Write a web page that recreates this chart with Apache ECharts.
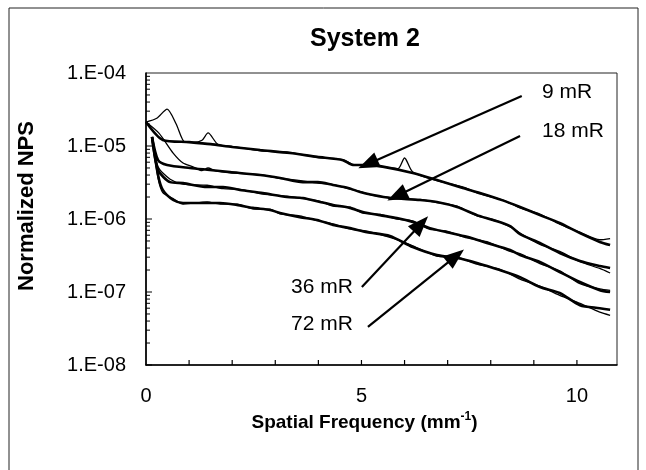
<!DOCTYPE html>
<html>
<head>
<meta charset="utf-8">
<script src="https://cdn.jsdelivr.net/npm/echarts@6/dist/echarts.min.js"></script>
<style>html,body{margin:0;padding:0;background:#fff}#c{width:646px;height:470px}</style>
</head>
<body>
<div id="c"></div>
<script>
// ---- data (spatial frequency in mm^-1, normalized NPS) ----
var freq9A = [0, 0.39, 1.0, 1.5, 2.0, 2.65, 3.34, 3.97, 4.57, 4.8, 5.13, 5.43, 6.19, 6.75, 7.35, 7.75, 8.28, 8.68, 9.14, 9.6, 10.07, 10.53, 10.77];
var nps9A  = [2.13e-5, 1.21e-5, 1.13e-5, 1.06e-5, 9.7e-6, 8.8e-6, 8.0e-6, 7.1e-6, 6.4e-6, 5.5e-6, 5.5e-6, 5.3e-6, 4.27e-6, 3.42e-6, 2.66e-6, 2.27e-6, 1.8e-6, 1.46e-6, 1.13e-6, 8.8e-7, 6.4e-7, 4.85e-7, 4.4e-7];
var freq9B = [0, 0.25, 0.49, 0.7, 0.9, 1.1, 1.3, 1.44, 1.67, 2.0, 2.65, 3.34, 3.97, 4.57, 4.8, 5.13, 5.6, 5.85, 6.0, 6.19, 6.75, 7.35, 7.75, 8.28, 8.68, 9.14, 9.6, 10.07, 10.53, 10.77];
var nps9B  = [2.13e-5, 2.4e-5, 3.2e-5, 2.0e-5, 1.13e-5, 1.12e-5, 1.2e-5, 1.51e-5, 1.05e-5, 9.9e-6, 8.6e-6, 8.2e-6, 7.0e-6, 6.5e-6, 5.6e-6, 5.4e-6, 5.1e-6, 4.9e-6, 6.85e-6, 4.4e-6, 3.35e-6, 2.75e-6, 2.2e-6, 1.82e-6, 1.42e-6, 1.17e-6, 8.5e-7, 6.6e-7, 5.2e-7, 5.4e-7];

var freq18A = [0.14, 0.28, 0.49, 1.02, 1.48, 1.95, 2.65, 3.11, 3.64, 3.99, 4.34, 4.69, 4.97, 5.27, 5.66, 6.36, 6.75, 7.22, 7.68, 8.05, 8.45, 8.68, 9.14, 9.6, 10.07, 10.53, 10.77];
var nps18A  = [1.33e-5, 6.4e-6, 5.5e-6, 5.0e-6, 4.7e-6, 4.4e-6, 4.0e-6, 3.65e-6, 3.2e-6, 3.2e-6, 2.92e-6, 2.66e-6, 2.34e-6, 2.13e-6, 1.94e-6, 1.82e-6, 1.71e-6, 1.46e-6, 1.13e-6, 9.7e-7, 8.0e-7, 6.2e-7, 4.7e-7, 3.42e-7, 2.66e-7, 2.27e-7, 2.13e-7];
var freq18B = [0, 0.3, 0.63, 0.86, 1.09, 1.3, 1.44, 1.6, 1.95, 2.65, 3.11, 3.5, 3.99, 4.34, 4.69, 4.97, 5.27, 5.66, 6.36, 6.75, 7.22, 7.68, 8.05, 8.45, 8.68, 9.14, 9.6, 10.07, 10.53, 10.77];
var nps18B  = [2.13e-5, 1.5e-5, 8.0e-6, 5.85e-6, 5.2e-6, 4.6e-6, 5.0e-6, 4.6e-6, 4.3e-6, 4.05e-6, 3.6e-6, 3.4e-6, 3.1e-6, 2.95e-6, 2.6e-6, 2.38e-6, 2.1e-6, 1.97e-6, 1.85e-6, 1.68e-6, 1.5e-6, 1.1e-6, 9.9e-7, 7.8e-7, 6.4e-7, 4.5e-7, 3.6e-7, 2.6e-7, 2.1e-7, 1.82e-7];

var freq36 = [0.14, 0.28, 0.56, 0.86, 1.42, 1.79, 2.18, 2.71, 3.27, 3.64, 4.04, 4.34, 4.73, 5.03, 5.43, 5.82, 6.19, 6.59, 6.98, 7.45, 7.91, 8.45, 8.68, 9.14, 9.6, 10.07, 10.53, 10.77];
var nps36A = [1.33e-5, 4.7e-6, 3.2e-6, 3.1e-6, 2.74e-6, 2.74e-6, 2.5e-6, 2.27e-6, 2.0e-6, 1.94e-6, 1.71e-6, 1.56e-6, 1.42e-6, 1.25e-6, 1.13e-6, 1.03e-6, 9.1e-7, 7.5e-7, 6.6e-7, 5.7e-7, 4.7e-7, 3.76e-7, 3.2e-7, 2.58e-7, 1.88e-7, 1.37e-7, 1.06e-7, 1.0e-7];
var nps36B = [1.33e-5, 5.2e-6, 3.5e-6, 3.0e-6, 2.9e-6, 2.6e-6, 2.55e-6, 2.2e-6, 2.05e-6, 1.9e-6, 1.75e-6, 1.5e-6, 1.45e-6, 1.2e-6, 1.16e-6, 1.0e-6, 9.4e-7, 7.2e-7, 6.8e-7, 5.5e-7, 4.9e-7, 3.6e-7, 3.35e-7, 2.45e-7, 1.95e-7, 1.3e-7, 1.1e-7, 1.05e-7];

var freq72 = [0.14, 0.28, 0.39, 0.63, 0.86, 1.42, 1.72, 2.11, 2.48, 2.88, 3.11, 3.57, 3.97, 4.34, 4.73, 5.13, 5.66, 6.19, 6.75, 7.22, 7.68, 8.21, 8.68, 9.14, 9.6, 10.07, 10.53, 10.77];
var nps72A = [1.33e-5, 4.0e-6, 2.5e-6, 1.82e-6, 1.66e-6, 1.66e-6, 1.66e-6, 1.56e-6, 1.42e-6, 1.33e-6, 1.21e-6, 1.06e-6, 9.7e-7, 8.3e-7, 7.5e-7, 6.6e-7, 5.85e-7, 4.13e-7, 3.2e-7, 2.92e-7, 2.5e-7, 2.0e-7, 1.6e-7, 1.17e-7, 9.7e-8, 6.6e-8, 6.0e-8, 5.7e-8];
var nps72B = [1.33e-5, 3.6e-6, 2.3e-6, 1.9e-6, 1.6e-6, 1.72e-6, 1.6e-6, 1.6e-6, 1.38e-6, 1.36e-6, 1.18e-6, 1.1e-6, 9.5e-7, 8.6e-7, 7.3e-7, 6.8e-7, 5.6e-7, 4.3e-7, 3.1e-7, 3.0e-7, 2.4e-7, 2.05e-7, 1.5e-7, 1.2e-7, 9.0e-8, 7.0e-8, 5.3e-8, 4.8e-8];

// annotation labels and arrows
var doseLabels   = ['9 mR', '18 mR', '36 mR', '72 mR'];
var labelFreq    = [9.19, 9.19, 4.80, 4.80];
var labelNPS     = [5.5e-5, 1.6e-5, 1.17e-7, 3.65e-8];
var arrowFromF   = [8.72, 8.68, 5.01, 5.15];
var arrowFromNPS = [4.84e-5, 1.37e-5, 1.17e-7, 3.32e-8];
var arrowToF     = [5.15, 5.82, 6.38, 7.19];
var arrowToNPS   = [5.66e-6, 2.07e-6, 8.55e-7, 3.11e-7];

var yTickLabels = ['1.E-08', '1.E-07', '1.E-06', '1.E-05', '1.E-04'];
var yDecades = [1e-8, 1e-7, 1e-6, 1e-5, 1e-4];
var xLabelVals = [0, 5, 10];

// ---- build ----
var FONT = '"Liberation Sans", Arial, Helvetica, sans-serif';
function pairs(xs, ys) { return xs.map(function (x, i) { return [x, ys[i]]; }); }
var yMinor = [];
for (var e = -8; e < -4; e++) { for (var k = 1; k <= 9; k++) { yMinor.push(k * Math.pow(10, e)); } }
var xTicks = [];
for (var t = 1; t <= 10; t++) xTicks.push(t);

function lineSeries(name, xs, ys, w) {
  return { name: name, type: 'line', data: pairs(xs, ys), showSymbol: false, smooth: 0.25,
           lineStyle: { color: '#000', width: w }, silent: true, z: 3 };
}

var arrows = doseLabels.map(function (d, i) {
  return [{ coord: [arrowFromF[i], arrowFromNPS[i]] }, { coord: [arrowToF[i], arrowToNPS[i]] }];
});
var labelPts = doseLabels.map(function (d, i) {
  return { coord: [labelFreq[i], labelNPS[i]], value: d,
           label: { position: i < 2 ? 'right' : 'left', distance: 0 } };
});

var series = [
  lineSeries('9 mR A', freq9A, nps9A, 2.6),
  lineSeries('9 mR B', freq9B, nps9B, 1.3),
  lineSeries('18 mR A', freq18A, nps18A, 2.6),
  lineSeries('18 mR B', freq18B, nps18B, 1.3),
  lineSeries('36 mR A', freq36, nps36A, 2.6),
  lineSeries('36 mR B', freq36, nps36B, 1.3),
  lineSeries('72 mR A', freq72, nps72A, 2.6),
  lineSeries('72 mR B', freq72, nps72B, 1.3)
];
series[0].markLine = {
  silent: true, symbol: ['none', 'triangle'], symbolSize: [16, 21],
  lineStyle: { color: '#000', width: 2.2, type: 'solid' }, label: { show: false },
  data: arrows, animation: false
};
series[0].markPoint = {
  silent: true, symbol: 'circle', symbolSize: 0, data: labelPts,
  label: { show: true, formatter: '{c}', color: '#000', fontFamily: FONT, fontSize: 21 },
  animation: false
};
// inward tick marks, placed through the axes' own scales
series.push({
  type: 'custom', silent: true, z: 4,
  data: yMinor.map(function (v) { return [0, v]; }),
  renderItem: function (params, api) {
    var p = api.coord([0, api.value(1)]);
    var len = Math.abs(Math.log10(api.value(1)) % 1) < 1e-6 ? 6 : 4;
    return { type: 'line', shape: { x1: p[0], y1: p[1], x2: p[0] + len, y2: p[1] },
             style: { stroke: '#000', lineWidth: 1 } };
  }
});
series.push({
  type: 'custom', silent: true, z: 4,
  data: xTicks.map(function (v) { return [v, 1e-8]; }),
  renderItem: function (params, api) {
    var p = api.coord([api.value(0), 1e-8]);
    return { type: 'line', shape: { x1: p[0], y1: p[1], x2: p[0], y2: p[1] - 5 },
             style: { stroke: '#000', lineWidth: 1.2 } };
  }
});

var chart = echarts.init(document.getElementById('c'), null, { renderer: 'canvas' });
chart.setOption({
  animation: false,
  backgroundColor: '#fff',
  title: { text: 'System 2', left: 310, top: 27, padding: 0,
           textStyle: { fontFamily: FONT, fontSize: 25, fontWeight: 'bold', color: '#000' } },
  graphic: [{ type: 'rect', shape: { x: 9, y: 8, width: 629, height: 470 },
              style: { fill: 'none', stroke: '#222', lineWidth: 1 }, silent: true }],
  grid: { left: 146, right: 29, top: 73, bottom: 105, show: true, borderColor: '#222', borderWidth: 1 },
  xAxis: {
    type: 'value', min: 0, max: 10.93, interval: 5,
    axisLine: { lineStyle: { color: '#000', width: 1.6 } },
    axisTick: { show: false },
    axisLabel: { customValues: xLabelVals, margin: 21, color: '#000', fontFamily: FONT, fontSize: 20 },
    splitLine: { show: false },
    name: '{t|Spatial Frequency (mm}{s|-1}{t|)}', nameLocation: 'middle', nameGap: 46,
    nameTextStyle: { padding: [0, 34, 0, 0], rich: {
      t: { fontFamily: FONT, fontSize: 19, fontWeight: 'bold', color: '#000' },
      s: { fontFamily: FONT, fontSize: 12, fontWeight: 'bold', color: '#000', verticalAlign: 'top', padding: [0, 0, 11, 0] } } }
  },
  yAxis: {
    type: 'log', logBase: 10, min: 1e-8, max: 1e-4,
    axisLine: { lineStyle: { color: '#000', width: 1.6 } },
    axisTick: { show: false },
    axisLabel: { customValues: yDecades, margin: 20, color: '#000', fontFamily: FONT, fontSize: 20,
      formatter: function (v) { var e = Math.round(Math.log10(v)); return yTickLabels[e + 8]; } },
    splitLine: { show: false },
    name: 'Normalized NPS', nameLocation: 'middle', nameGap: 108, nameRotate: 90,
    nameTextStyle: { fontFamily: FONT, fontSize: 22, fontWeight: 'bold', color: '#000', padding: [0, 0, 0, 26] }
  },
  series: series
});
</script>
</body>
</html>
